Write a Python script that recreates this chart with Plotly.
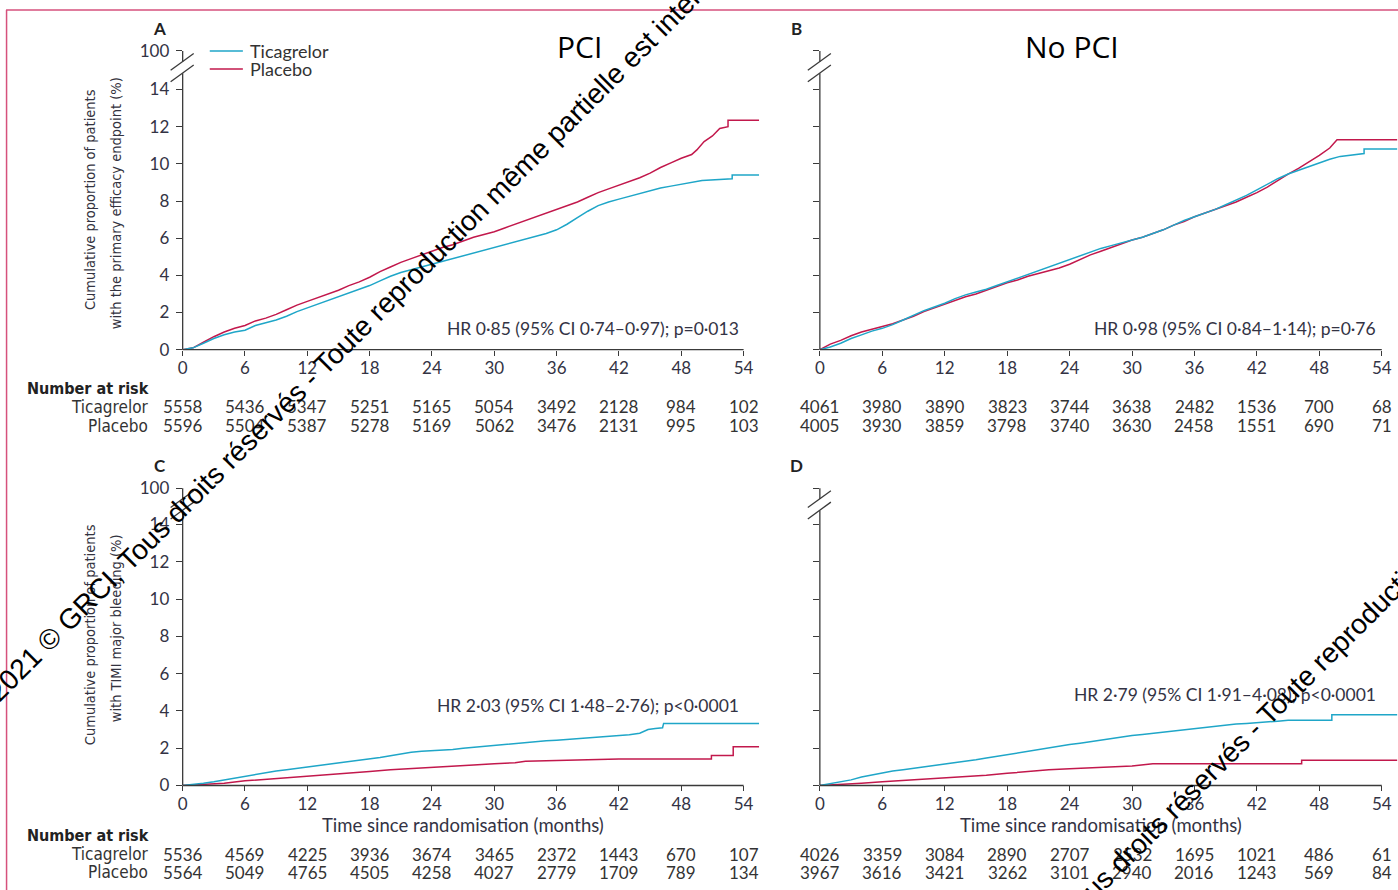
import plotly.graph_objects as go

W, H = 1398, 890          # target picture size (px)
# measured page transform of the viewer: shown = S * (figure_px + OFF)
OFF = 8
SX, SY = 0.993, 0.981
FW, FH = 1400, 900

# ---------------- data ----------------
months_ticks = [0, 6, 12, 18, 24, 30, 36, 42, 48, 54]

# Panel A: PCI, primary efficacy endpoint
a_tic_t = [0, 1, 2, 3, 4, 5, 6, 7, 8, 9, 10, 11, 12, 13, 14, 15, 16, 17, 18, 19, 20, 21, 22, 23, 24, 25, 26, 27, 28,
           29, 30, 31, 32, 33, 34, 35, 36, 37, 38, 39, 40, 41, 42, 43, 44, 45, 46, 47, 48, 49, 50, 52.9, 52.9, 55.5]
a_tic_v = [0, 0.1, 0.35, 0.6, 0.8, 0.95, 1.05, 1.3, 1.45, 1.6, 1.8, 2.05, 2.25, 2.45, 2.65, 2.85, 3.05, 3.25, 3.45,
           3.7, 3.95, 4.15, 4.3, 4.45, 4.6, 4.75, 4.9, 5.05, 5.2, 5.35, 5.5, 5.65, 5.8, 5.95, 6.1, 6.25, 6.45, 6.75,
           7.1, 7.45, 7.75, 7.95, 8.1, 8.25, 8.4, 8.55, 8.7, 8.8, 8.9, 9.0, 9.1, 9.2, 9.4, 9.4]
a_pla_t = [0, 1, 2, 3, 4, 5, 6, 7, 8, 9, 10, 11, 12, 13, 14, 15, 16, 17, 18, 19, 20, 21, 22, 23, 24, 25, 26, 27, 28,
           29, 30, 31, 32, 33, 34, 35, 36, 37, 38, 39, 40, 41, 42, 43, 44, 45, 46, 47, 48, 49, 49.5, 50.2, 51, 51.7,
           52.5, 52.5, 55.5]
a_pla_v = [0, 0.1, 0.4, 0.7, 0.95, 1.15, 1.3, 1.55, 1.7, 1.9, 2.15, 2.4, 2.6, 2.8, 3.0, 3.2, 3.45, 3.65, 3.9, 4.2,
           4.45, 4.7, 4.9, 5.1, 5.3, 5.5, 5.65, 5.85, 6.05, 6.2, 6.35, 6.55, 6.75, 6.95, 7.15, 7.35, 7.55, 7.75, 7.95,
           8.2, 8.45, 8.65, 8.85, 9.05, 9.25, 9.5, 9.8, 10.05, 10.3, 10.5, 10.75, 11.2, 11.5, 11.9, 12.0, 12.35, 12.35]

# Panel B: no PCI, primary efficacy endpoint
b_tic_t = list(range(0, 51)) + [51.5, 52.3, 52.3, 55.5]
b_tic_v = [0, 0.15, 0.35, 0.6, 0.8, 1.0, 1.15, 1.35, 1.6, 1.85, 2.1, 2.3, 2.5, 2.75, 2.95, 3.1, 3.25, 3.45, 3.65,
           3.85, 4.05, 4.25, 4.45, 4.65, 4.85, 5.05, 5.25, 5.45, 5.6, 5.75, 5.9, 6.05, 6.25, 6.45, 6.7, 6.95, 7.15,
           7.35, 7.55, 7.8, 8.05, 8.3, 8.6, 8.9, 9.2, 9.45, 9.65, 9.85, 10.05, 10.25, 10.4, 10.5, 10.55, 10.8, 10.8]
b_pla_t = sorted(list(range(0, 50)) + [49.7, 55.5])
b_pla_v = [0, 0.3, 0.5, 0.75, 0.95, 1.1, 1.25, 1.4, 1.6, 1.8, 2.05, 2.25, 2.45, 2.65, 2.85, 3.0, 3.2, 3.4, 3.6,
           3.75, 3.95, 4.1, 4.25, 4.4, 4.6, 4.85, 5.1, 5.3, 5.5, 5.7, 5.9, 6.05, 6.25, 6.45, 6.7, 6.9, 7.15, 7.35,
           7.55, 7.75, 7.95, 8.2, 8.45, 8.75, 9.1, 9.45, 9.75, 10.1, 10.45, 10.85, 11.3, 11.3]

# Panel C: PCI, TIMI major bleeding
c_tic_t = list(range(0, 45)) + [44.8, 45.5, 46.2, 46.3, 55.5]
c_tic_v = [0, 0.05, 0.12, 0.2, 0.3, 0.4, 0.5, 0.6, 0.7, 0.78, 0.85, 0.92, 1.0, 1.07, 1.14, 1.2, 1.27, 1.34, 1.42,
           1.5, 1.6, 1.7, 1.78, 1.83, 1.86, 1.88, 1.93, 2.0, 2.05, 2.12, 2.18, 2.22, 2.28, 2.32, 2.36, 2.4, 2.43,
           2.47, 2.5, 2.55, 2.58, 2.62, 2.66, 2.72, 2.8, 3.0, 3.06, 3.1, 3.33, 3.33]
c_pla_t = [0, 2, 4, 6, 8, 10, 12, 14, 16, 18, 20, 22, 24, 26, 28, 30, 32, 33, 35, 37, 39, 42, 50.9, 50.9, 53, 53,
           55.5]
c_pla_v = [0, 0.05, 0.12, 0.25, 0.33, 0.4, 0.48, 0.56, 0.65, 0.75, 0.85, 0.92, 0.98, 1.04, 1.1, 1.16, 1.22, 1.3,
           1.33, 1.36, 1.39, 1.42, 1.42, 1.61, 1.61, 2.08, 2.08]

# Panel D: no PCI, TIMI major bleeding
d_tic_t = list(range(0, 46)) + [49.2, 49.2, 55.5]
d_tic_v = [0, 0.1, 0.2, 0.3, 0.45, 0.57, 0.7, 0.78, 0.85, 0.92, 1.0, 1.07, 1.13, 1.2, 1.28, 1.38, 1.47, 1.56, 1.65,
           1.75, 1.85, 1.95, 2.05, 2.12, 2.2, 2.27, 2.35, 2.45, 2.55, 2.62, 2.68, 2.74, 2.8, 2.87, 2.95, 3.02, 3.08,
           3.14, 3.2, 3.25, 3.3, 3.33, 3.36, 3.4, 3.45, 3.5, 3.5, 3.8, 3.8]
d_pla_t = [0, 2, 4, 6, 8, 10, 12, 14, 16, 18, 20, 22, 24, 26, 28, 30, 32, 46.3, 46.3, 55.5]
d_pla_v = [0, 0.05, 0.12, 0.2, 0.27, 0.33, 0.38, 0.45, 0.55, 0.65, 0.75, 0.85, 0.9, 0.95, 1.0, 1.05, 1.16, 1.16,
           1.35, 1.35]

# Numbers at risk
a_risk_tic = [5558, 5436, 5347, 5251, 5165, 5054, 3492, 2128, 984, 102]
a_risk_pla = [5596, 5504, 5387, 5278, 5169, 5062, 3476, 2131, 995, 103]
b_risk_tic = [4061, 3980, 3890, 3823, 3744, 3638, 2482, 1536, 700, 68]
b_risk_pla = [4005, 3930, 3859, 3798, 3740, 3630, 2458, 1551, 690, 71]
c_risk_tic = [5536, 4569, 4225, 3936, 3674, 3465, 2372, 1443, 670, 107]
c_risk_pla = [5564, 5049, 4765, 4505, 4258, 4027, 2779, 1709, 789, 134]
d_risk_tic = [4026, 3359, 3084, 2890, 2707, 2532, 1695, 1021, 486, 61]
d_risk_pla = [3967, 3616, 3421, 3262, 3101, 2940, 2016, 1243, 569, 84]

hr_texts = ["HR 0·85 (95% CI 0·74–0·97); p=0·013",
            "HR 0·98 (95% CI 0·84–1·14); p=0·76",
            "HR 2·03 (95% CI 1·48–2·76); p<0·0001",
            "HR 2·79 (95% CI 1·91–4·08); p<0·0001"]
y_ticks = [0, 2, 4, 6, 8, 10, 12, 14]

# ---------------- style ----------------
C_TIC = "#1fa6c8"
C_PLA = "#c2184c"
AX = "#3a3a3a"
TXT = "#333344"
NUM_FONT = "Lato, 'Open Sans', sans-serif"
NARROW = "'Liberation Sans Narrow', 'DejaVu Sans Condensed', 'Arial Narrow', sans-serif"

XMAX = 55.5
panels = [
    dict(n=1, x0=185, ppm=10.352, y0=349.3, ppu=18.63, ymax=16.2, top=16.07, labels=True, letter="A",
         tic=(a_tic_t, a_tic_v), pla=(a_pla_t, a_pla_v), risk=(a_risk_tic, a_risk_pla), hr=hr_texts[0],
         hr_x=741, hr_y=328, lower=False),
    dict(n=2, x0=820, ppm=10.37, y0=349.3, ppu=18.63, ymax=16.2, top=16.07, labels=False, letter="B",
         tic=(b_tic_t, b_tic_v), pla=(b_pla_t, b_pla_v), risk=(b_risk_tic, b_risk_pla), hr=hr_texts[1],
         hr_x=1376, hr_y=328, lower=False),
    dict(n=3, x0=185, ppm=10.352, y0=786, ppu=18.68, ymax=16.1, top=15.95, labels=True, letter="C",
         tic=(c_tic_t, c_tic_v), pla=(c_pla_t, c_pla_v), risk=(c_risk_tic, c_risk_pla), hr=hr_texts[2],
         hr_x=741, hr_y=706, lower=True),
    dict(n=4, x0=820, ppm=10.37, y0=786, ppu=18.68, ymax=16.1, top=15.95, labels=False, letter="D",
         tic=(d_tic_t, d_tic_v), pla=(d_pla_t, d_pla_v), risk=(d_risk_tic, d_risk_pla), hr=hr_texts[3],
         hr_x=1376, hr_y=695, lower=True),
]


def PX(x):
    return (x / SX - OFF) / FW


def PY(y):
    return 1 - (y / SY - OFF) / FH


fig = go.Figure()
shapes = []
annotations = []


def line(x0, y0, x1, y1, color=AX, width=1.3):
    shapes.append(dict(type="line", xref="paper", yref="paper", x0=PX(x0), y0=PY(y0), x1=PX(x1), y1=PY(y1),
                       line=dict(color=color, width=width)))


def text(x, y, s, size=16, color=TXT, family=NUM_FONT, xanchor="center", angle=0, bold=False, xref="paper"):
    if bold:
        s = "<b>" + s + "</b>"
    annotations.append(dict(x=x if xref != "paper" else PX(x), y=PY(y), xref=xref, yref="paper", text=s,
                            showarrow=False, xanchor=xanchor, yanchor="middle", textangle=angle,
                            font=dict(size=size, color=color, family=family)))


for p in panels:
    n = p["n"]
    sfx = "" if n == 1 else str(n)
    xa, ya = "x" + sfx, "y" + sfx
    fig.add_trace(go.Scatter(x=p["pla"][0], y=p["pla"][1], mode="lines", line=dict(color=C_PLA, width=1.5),
                             xaxis=xa, yaxis=ya, showlegend=False, name="Placebo"))
    fig.add_trace(go.Scatter(x=p["tic"][0], y=p["tic"][1], mode="lines", line=dict(color=C_TIC, width=1.5),
                             xaxis=xa, yaxis=ya, showlegend=False, name="Ticagrelor"))
    x_right = p["x0"] + XMAX * p["ppm"]
    y_top = p["y0"] - p["ymax"] * p["ppu"]
    fig.update_layout(**{
        "xaxis" + sfx: dict(domain=[PX(p["x0"]), PX(x_right)], range=[0, XMAX], tickvals=months_ticks,
                            ticks="outside", ticklen=5, tickcolor=AX, tickwidth=1.2, showline=False,
                            showgrid=False, zeroline=False, anchor=ya, ticklabelstandoff=-2,
                            tickfont=dict(family=NUM_FONT, size=17, color=TXT)),
        "yaxis" + sfx: dict(domain=[PY(p["y0"]), PY(y_top)], range=[0, p["ymax"]],
                            tickvals=y_ticks + [p["top"]], ticktext=[str(v) for v in y_ticks] + ["100"],
                            ticks="outside", ticklen=6, tickcolor=AX, tickwidth=1.2, showline=False,
                            showgrid=False, zeroline=False, anchor=xa, showticklabels=p["labels"],
                            ticklabelstandoff=3,
                            tickfont=dict(family=NUM_FONT, size=17, color=TXT)),
    })
    # axis lines with break
    x0, y0 = p["x0"], p["y0"]
    x54 = x0 + 54 * p["ppm"]
    y100 = y0 - p["top"] * p["ppu"]
    yu = y100 + 10.9
    yl = y100 + 22.4
    line(x0, y0, x54, y0)
    line(x0, y0, x0, yl)
    line(x0, yu, x0, y100)
    for yc in (yu, yl):
        line(x0 - 12, yc + 8.4, x0 + 11, yc - 8.4)
    # panel letter
    text(x0 - 23, y100 - 23, p["letter"], size=17, color="#222222", bold=True)
    # HR text
    text(p["hr_x"], p["hr_y"], p["hr"], size=17.5, xanchor="right")
    # numbers at risk
    row1 = y0 + 57 if not p["lower"] else y0 + 69
    row2 = row1 + 19 if not p["lower"] else row1 + 18
    for t, a, b in zip(months_ticks, p["risk"][0], p["risk"][1]):
        text(t, row1, str(a), size=17, xref=xa, color="#333333")
        text(t, row2, str(b), size=17, xref=xa, color="#333333")
    if p["labels"]:
        text(152, row1, "Ticagrelor", size=17, xanchor="right", color="#333333", family=NARROW)
        text(152, row2, "Placebo", size=17, xanchor="right", color="#333333", family=NARROW)
        text(28, row1 - 18 - (1 if p["lower"] else 0), "Number at risk", size=16, xanchor="left",
             color="#222222", family=NARROW, bold=True)
    if p["lower"]:
        text((x0 + x54) / 2, y0 + 40, "Time since randomisation (months)", size=18.5, color=TXT)

# y axis titles (two lines each)
text(92, 199, "Cumulative proportion of patients", size=14.5, angle=-90, family=NARROW, color="#333340")
text(118, 202, "with the primary efficacy endpoint (%)", size=14.5, angle=-90, family=NARROW, color="#333340")
text(92, 635, "Cumulative proportion of patients", size=14.5, angle=-90, family=NARROW, color="#333340")
text(118, 628, "with TIMI major bleeding (%)", size=14.5, angle=-90, family=NARROW, color="#333340")

# legend
line(212, 50, 245, 50, color=C_TIC, width=1.5)
line(212, 68, 245, 68, color=C_PLA, width=1.5)
text(250, 50, "Ticagrelor", size=18, xanchor="left", color="#333333")
text(250, 68, "Placebo", size=18, xanchor="left", color="#333333")

# titles
text(580, 45, "PCI", size=30, color="black", family="'Open Sans', sans-serif")
text(1071, 45, "No PCI", size=30, color="black", family="'Open Sans', sans-serif")

# frame
line(9, 8.8, W + 5, 8.8, color="#d6517c", width=1.5)
line(9.5, 8.8, 9.5, H + 5, color="#d6517c", width=1.5)

# copyright overlay text
wm = "2021 © GRCI, Tous droits réservés - Toute reproduction même partielle est interdite"
text(362, 328, wm, size=28.2, color="black", family="'Liberation Sans', Arial, sans-serif", angle=-45)
text(1302, 678, wm, size=28.2, color="black", family="'Liberation Sans', Arial, sans-serif", angle=-45)

fig.update_layout(width=FW, height=FH, margin=dict(l=0, r=0, t=0, b=0), paper_bgcolor="white",
                  plot_bgcolor="rgba(0,0,0,0)", shapes=shapes, annotations=annotations, showlegend=False)
fig.write_html("out.html")
